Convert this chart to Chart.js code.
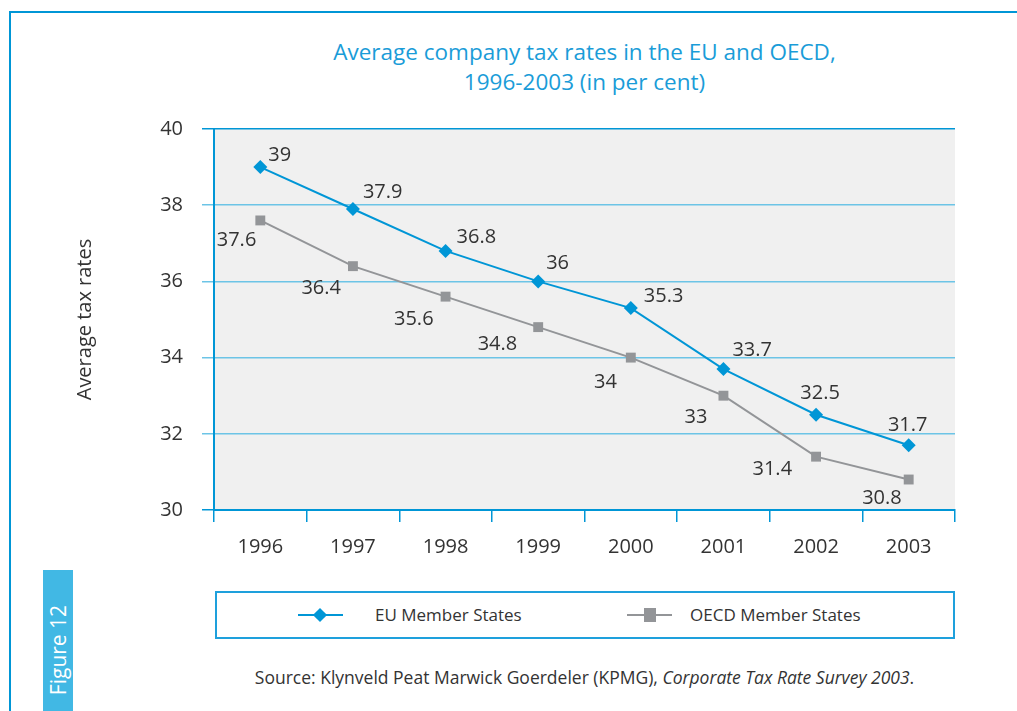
<!DOCTYPE html>
<html>
<head>
<meta charset="utf-8">
<script src="https://cdn.jsdelivr.net/npm/chart.js@4.4.0/dist/chart.umd.min.js"></script>
<style>
    body { margin: 0; background: #fff; font-family: "Open Sans", sans-serif; }
    #page { position: relative; width: 1017px; height: 711px; overflow: hidden; }
    #frameTop { position: absolute; left: 9px; top: 11px; width: 1008px; height: 2px; background: #0096d6; }
    #frameLeft { position: absolute; left: 9px; top: 11px; width: 2px; height: 700px; background: #0096d6; }
    #chartBox { position: absolute; left: 0; top: 0; width: 1017px; height: 560px; }
    #title { position: absolute; left: 214px; width: 741px; top: 37px; text-align: center;
             color: #1a9cd8; font-size: 22.5px; line-height: 30px; }
    #tab { position: absolute; left: 43px; top: 570px; width: 30px; height: 141px; background: #41b8e4; }
    #tab span { position: absolute; left: 15px; top: 80px; color: #fff; font-size: 21px; white-space: nowrap;
                transform: translate(-50%, -50%) rotate(-90deg); }
    #legend { position: absolute; left: 215px; top: 591px; width: 736px; height: 44px; border: 2px solid #1ea0dc; }
    .line { position: absolute; top: 21px; width: 45px; height: 2px; }
    .mark { position: absolute; }
    .txt { position: absolute; top: 10px; font-size: 17px; color: #333; white-space: nowrap; }
    #source { position: absolute; left: 214px; width: 741px; top: 665px; text-align: center; font-size: 17.5px; color: #333; }
</style>
</head>
<body>
<div id="page">
    <div id="frameTop"></div>
    <div id="frameLeft"></div>
    <div id="title">Average company tax rates in the EU and OECD,<br>1996-2003 (in per cent)</div>
    <div id="chartBox"><canvas id="chart-1"></canvas></div>
    <div id="tab"><span>Figure 12</span></div>
    <div id="legend"></div>
    <div id="source">Source: Klynveld Peat Marwick Goerdeler (KPMG), <i>Corporate Tax Rate Survey 2003</i>.</div>
</div>
<script>
const years = ['1996', '1997', '1998', '1999', '2000', '2001', '2002', '2003'];
const euRates = [39, 37.9, 36.8, 36, 35.3, 33.7, 32.5, 31.7];
const oecdRates = [37.6, 36.4, 35.6, 34.8, 34, 33, 31.4, 30.8];
const seriesNames = ['EU Member States', 'OECD Member States'];

const blue = '#0096d6';
const grey = '#939598';
const textColor = '#333333';

// グレーの背景
const plotBackground = {
    id: 'plotBackground',
    beforeDraw(chart) {
        const a = chart.chartArea;
        const ctx = chart.ctx;
        ctx.save();
        ctx.fillStyle = '#f0f0f0';
        ctx.fillRect(a.left, a.top, a.right - a.left, a.bottom - a.top);
        ctx.restore();
    }
};

// 値ラベル (点ごとの配置はオプションから)
const valueLabels = {
    id: 'valueLabels',
    afterDatasetsDraw(chart, args, opts) {
        const ctx = chart.ctx;
        ctx.save();
        ctx.font = '20px "Open Sans"';
        ctx.fillStyle = textColor;
        ctx.textBaseline = 'middle';
        chart.data.datasets.forEach(function (ds, i) {
            const place = opts.placement[i];
            const meta = chart.getDatasetMeta(i);
            meta.data.forEach(function (pt, j) {
                ctx.textAlign = place.align[j];
                ctx.fillText(ds.data[j], pt.x + place.dx[j], pt.y + place.dy[j]);
            });
        });
        ctx.restore();
    }
};

const ctx = document.getElementById('chart-1').getContext('2d');
const chart = new Chart(ctx, {
    type: 'line',
    data: {
        labels: years,
        datasets: [
            {
                label: seriesNames[0],
                data: euRates,
                borderColor: blue,
                backgroundColor: blue,
                borderWidth: 2,
                pointStyle: 'rectRot',
                pointRadius: 7,
                pointBorderWidth: 0,
                fill: false
            },
            {
                label: seriesNames[1],
                data: oecdRates,
                borderColor: grey,
                backgroundColor: grey,
                borderWidth: 2,
                pointStyle: 'rect',
                pointRadius: 7,
                pointBorderWidth: 0,
                fill: false
            }
        ]
    },
    options: {
        responsive: true,
        maintainAspectRatio: false,
        animation: false,
        layout: { padding: { top: 129, right: 62, left: 0, bottom: 0 } },
        plugins: {
            legend: { display: false },
            title: { display: false },
            tooltip: { enabled: false },
            valueLabels: {
                placement: [
                    {
                        align: ['left', 'left', 'left', 'left', 'left', 'left', 'center', 'center'],
                        dx: [8, 10, 11, 8, 13, 9, 4, -1],
                        dy: [-12, -17, -14, -18, -12, -19, -21, -20]
                    },
                    {
                        align: ['right', 'right', 'right', 'right', 'right', 'right', 'right', 'right'],
                        dx: [-4, -12, -12, -21, -14, -16, -24, -7],
                        dy: [20, 22, 23, 17, 25, 22, 13, 19]
                    }
                ]
            }
        },
        scales: {
            x: {
                type: 'category',
                offset: true,
                grid: {
                    offset: true,
                    drawOnChartArea: false,
                    drawTicks: true,
                    tickLength: 12,
                    color: blue,
                    lineWidth: 1.5
                },
                border: { color: blue, width: 2 },
                ticks: {
                    color: textColor,
                    font: { family: '"Open Sans"', size: 20 },
                    padding: 13,
                    maxRotation: 0
                },
                afterFit: function (scale) { scale.height = 50; }
            },
            y: {
                min: 30,
                max: 40,
                ticks: {
                    stepSize: 2,
                    color: textColor,
                    font: { family: '"Open Sans"', size: 20 },
                    padding: 19
                },
                grid: {
                    tickLength: 12,
                    lineWidth: 1.5,
                    color: function (c) {
                        return (c.tick && (c.tick.value === 40 || c.tick.value === 30)) ? blue : '#6cc4e6';
                    }
                },
                border: { color: blue, width: 2 },
                title: {
                    display: true,
                    text: 'Average tax rates',
                    color: textColor,
                    font: { family: '"Open Sans"', size: 20 },
                    padding: { top: 73, bottom: 0 }
                },
                afterFit: function (scale) { scale.width = 214; }
            }
        }
    },
    plugins: [plotBackground, valueLabels]
});

// 凡例をデータセットから作成
const legendDiv = document.getElementById('legend');
const legendLineLeft = [81, 410];
const legendTextLeft = [158, 473];
chart.data.datasets.forEach(function (ds, i) {
    const line = document.createElement('div');
    line.className = 'line';
    line.style.left = legendLineLeft[i] + 'px';
    line.style.background = ds.borderColor;
    legendDiv.appendChild(line);
    const mark = document.createElement('div');
    mark.className = 'mark';
    mark.style.background = ds.backgroundColor;
    if (ds.pointStyle === 'rectRot') {
        mark.style.width = '10px';
        mark.style.height = '10px';
        mark.style.left = (legendLineLeft[i] + 17) + 'px';
        mark.style.top = '17px';
        mark.style.transform = 'rotate(45deg)';
    } else {
        mark.style.width = '12px';
        mark.style.height = '14px';
        mark.style.left = (legendLineLeft[i] + 17) + 'px';
        mark.style.top = '15px';
    }
    legendDiv.appendChild(mark);
    const txt = document.createElement('div');
    txt.className = 'txt';
    txt.style.left = legendTextLeft[i] + 'px';
    txt.textContent = ds.label;
    legendDiv.appendChild(txt);
});
</script>
</body>
</html>
